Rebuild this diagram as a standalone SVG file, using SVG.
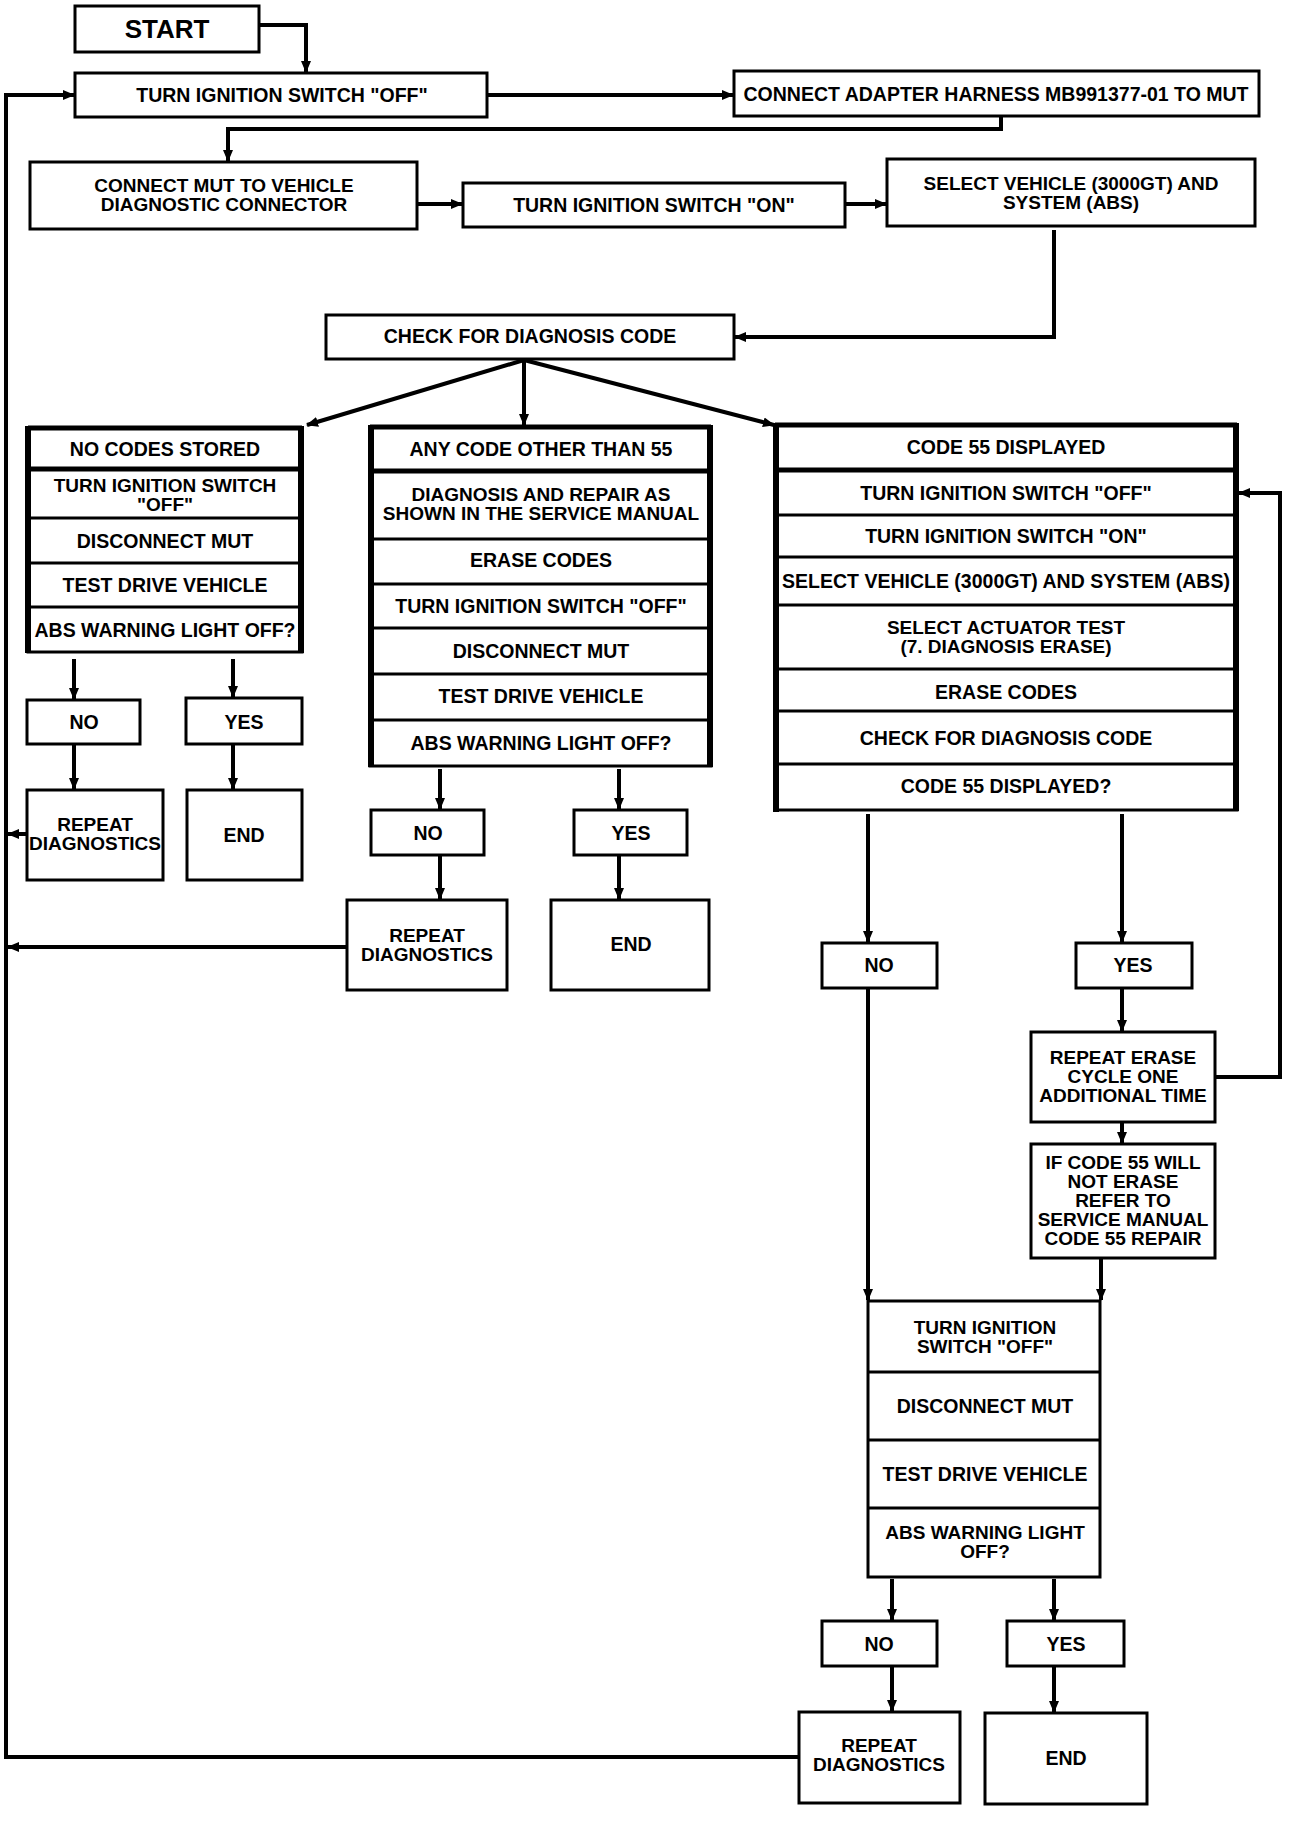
<svg xmlns="http://www.w3.org/2000/svg" width="1312" height="1836" viewBox="0 0 1312 1836">
<style>
.bx{fill:#fff;stroke:#000;stroke-width:3}
.sep{stroke:#000;stroke-width:3}
.sepT{stroke:#000;stroke-width:5}
.edge{stroke:#000;stroke-width:6}
.c{fill:none;stroke:#000;stroke-width:4}
.t{font-family:"Liberation Sans",Arial,Helvetica,sans-serif;font-weight:bold;font-size:19.5px;text-anchor:middle;fill:#000}
.m{font-size:19px}
.big{font-size:26px}
</style>
<defs>
<marker id="ah" viewBox="0 0 12 12" refX="11" refY="6" markerWidth="12" markerHeight="12" markerUnits="userSpaceOnUse" orient="auto">
<path d="M0,1 L12,6 L0,11 z" fill="#000"/>
</marker>
</defs>
<rect width="1312" height="1836" fill="#fff"/>

<g id="connectors">
<polyline class="c" points="259,25 306,25 306,72" marker-end="url(#ah)"/>
<line class="c" x1="487" y1="95" x2="733" y2="95" marker-end="url(#ah)"/>
<polyline class="c" points="1001,116 1001,129 228,129 228,161" marker-end="url(#ah)"/>
<line class="c" x1="418" y1="204" x2="462" y2="204" marker-end="url(#ah)"/>
<line class="c" x1="845" y1="204" x2="886" y2="204" marker-end="url(#ah)"/>
<polyline class="c" points="1054,230 1054,337 735,337" marker-end="url(#ah)"/>
<line class="c" x1="524" y1="360" x2="307" y2="425" marker-end="url(#ah)"/>
<line class="c" x1="524" y1="360" x2="524" y2="425" marker-end="url(#ah)"/>
<line class="c" x1="524" y1="360" x2="774" y2="425" marker-end="url(#ah)"/>
<line class="c" x1="74" y1="659" x2="74" y2="699" marker-end="url(#ah)"/>
<line class="c" x1="233" y1="659" x2="233" y2="697" marker-end="url(#ah)"/>
<line class="c" x1="74" y1="744" x2="74" y2="789" marker-end="url(#ah)"/>
<line class="c" x1="233" y1="744" x2="233" y2="789" marker-end="url(#ah)"/>
<line class="c" x1="440" y1="769" x2="440" y2="809" marker-end="url(#ah)"/>
<line class="c" x1="619" y1="769" x2="619" y2="809" marker-end="url(#ah)"/>
<line class="c" x1="440" y1="855" x2="440" y2="899" marker-end="url(#ah)"/>
<line class="c" x1="619" y1="855" x2="619" y2="899" marker-end="url(#ah)"/>
<line class="c" x1="868" y1="814" x2="868" y2="942" marker-end="url(#ah)"/>
<line class="c" x1="868" y1="988" x2="868" y2="1300" marker-end="url(#ah)"/>
<line class="c" x1="1122" y1="814" x2="1122" y2="942" marker-end="url(#ah)"/>
<line class="c" x1="1122" y1="988" x2="1122" y2="1031" marker-end="url(#ah)"/>
<line class="c" x1="1122" y1="1122" x2="1122" y2="1143" marker-end="url(#ah)"/>
<line class="c" x1="1101" y1="1258" x2="1101" y2="1300" marker-end="url(#ah)"/>
<polyline class="c" points="1215,1077 1280,1077 1280,493 1239,493" marker-end="url(#ah)"/>
<line class="c" x1="892" y1="1579" x2="892" y2="1620" marker-end="url(#ah)"/>
<line class="c" x1="1054" y1="1579" x2="1054" y2="1620" marker-end="url(#ah)"/>
<line class="c" x1="892" y1="1667" x2="892" y2="1711" marker-end="url(#ah)"/>
<line class="c" x1="1054" y1="1667" x2="1054" y2="1712" marker-end="url(#ah)"/>
<polyline class="c" points="799,1757 6,1757 6,95 74,95" marker-end="url(#ah)"/>
<line class="c" x1="27" y1="834" x2="8" y2="834" marker-end="url(#ah)"/>
<line class="c" x1="347" y1="947" x2="8" y2="947" marker-end="url(#ah)"/>
</g>

<g id="start">
<rect class="bx" x="75" y="6" width="184" height="46"/>
<text class="t big" x="167" y="38">START</text>
</g>
<g id="turn-off">
<rect class="bx" x="75" y="73" width="412" height="44"/>
<text class="t" x="282" y="102">TURN IGNITION SWITCH "OFF"</text>
</g>
<g id="adapter">
<rect class="bx" x="734" y="71" width="525" height="45"/>
<text class="t" x="996" y="101">CONNECT ADAPTER HARNESS MB991377-01 TO MUT</text>
</g>
<g id="connect-mut">
<rect class="bx" x="30" y="162" width="387" height="67"/>
<text class="t m" x="224" y="192">CONNECT MUT TO VEHICLE</text>
<text class="t m" x="224" y="211">DIAGNOSTIC CONNECTOR</text>
</g>
<g id="turn-on">
<rect class="bx" x="463" y="183" width="382" height="44"/>
<text class="t" x="654" y="212">TURN IGNITION SWITCH "ON"</text>
</g>
<g id="select-vehicle">
<rect class="bx" x="887" y="159" width="368" height="67"/>
<text class="t m" x="1071" y="190">SELECT VEHICLE (3000GT) AND</text>
<text class="t m" x="1071" y="209">SYSTEM (ABS)</text>
</g>
<g id="check">
<rect class="bx" x="326" y="315" width="408" height="44"/>
<text class="t" x="530" y="343">CHECK FOR DIAGNOSIS CODE</text>
</g>

<g id="no-codes">
<rect class="bx" x="28" y="428" width="274" height="224"/>
<line class="edge" x1="28" y1="426" x2="28" y2="653"/>
<line class="edge" x1="301" y1="426" x2="301" y2="653"/>
<line class="sepT" x1="28" y1="428" x2="302" y2="428"/>
<line class="sepT" x1="28" y1="469" x2="302" y2="469"/>
<line class="sep" x1="28" y1="518" x2="302" y2="518"/>
<line class="sep" x1="28" y1="563" x2="302" y2="563"/>
<line class="sep" x1="28" y1="607" x2="302" y2="607"/>
<text class="t" x="165" y="456">NO CODES STORED</text>
<text class="t m" x="165" y="492">TURN IGNITION SWITCH</text>
<text class="t m" x="165" y="511">"OFF"</text>
<text class="t" x="165" y="548">DISCONNECT MUT</text>
<text class="t" x="165" y="592">TEST DRIVE VEHICLE</text>
<text class="t" x="165" y="637">ABS WARNING LIGHT OFF?</text>
</g>
<g id="no1"><rect class="bx" x="27" y="700" width="113" height="44"/><text class="t" x="84" y="729">NO</text></g>
<g id="yes1"><rect class="bx" x="186" y="698" width="116" height="46"/><text class="t" x="244" y="729">YES</text></g>
<g id="repeat1"><rect class="bx" x="27" y="790" width="136" height="90"/><text class="t m" x="95" y="831">REPEAT</text><text class="t m" x="95" y="850">DIAGNOSTICS</text></g>
<g id="end1"><rect class="bx" x="187" y="790" width="115" height="90"/><text class="t" x="244" y="842">END</text></g>

<g id="other-code">
<rect class="bx" x="370" y="427" width="341" height="339"/>
<line class="edge" x1="371" y1="425" x2="371" y2="767"/>
<line class="edge" x1="710" y1="425" x2="710" y2="767"/>
<line class="sepT" x1="370" y1="427" x2="711" y2="427"/>
<line class="sepT" x1="370" y1="471" x2="711" y2="471"/>
<line class="sep" x1="370" y1="539" x2="711" y2="539"/>
<line class="sep" x1="370" y1="584" x2="711" y2="584"/>
<line class="sep" x1="370" y1="628" x2="711" y2="628"/>
<line class="sep" x1="370" y1="674" x2="711" y2="674"/>
<line class="sep" x1="370" y1="720" x2="711" y2="720"/>
<text class="t" x="541" y="456">ANY CODE OTHER THAN 55</text>
<text class="t m" x="541" y="501">DIAGNOSIS AND REPAIR AS</text>
<text class="t m" x="541" y="520">SHOWN IN THE SERVICE MANUAL</text>
<text class="t" x="541" y="567">ERASE CODES</text>
<text class="t" x="541" y="613">TURN IGNITION SWITCH "OFF"</text>
<text class="t" x="541" y="658">DISCONNECT MUT</text>
<text class="t" x="541" y="703">TEST DRIVE VEHICLE</text>
<text class="t" x="541" y="750">ABS WARNING LIGHT OFF?</text>
</g>
<g id="no2"><rect class="bx" x="371" y="810" width="113" height="45"/><text class="t" x="428" y="840">NO</text></g>
<g id="yes2"><rect class="bx" x="574" y="810" width="113" height="45"/><text class="t" x="631" y="840">YES</text></g>
<g id="repeat2"><rect class="bx" x="347" y="900" width="160" height="90"/><text class="t m" x="427" y="942">REPEAT</text><text class="t m" x="427" y="961">DIAGNOSTICS</text></g>
<g id="end2"><rect class="bx" x="551" y="900" width="158" height="90"/><text class="t" x="631" y="951">END</text></g>

<g id="code55">
<rect class="bx" x="775" y="425" width="462" height="385"/>
<line class="edge" x1="776" y1="423" x2="776" y2="812"/>
<line class="edge" x1="1236" y1="423" x2="1236" y2="811"/>
<line class="sepT" x1="775" y1="425" x2="1237" y2="425"/>
<line class="sepT" x1="775" y1="470" x2="1237" y2="470"/>
<line class="sep" x1="775" y1="515" x2="1237" y2="515"/>
<line class="sep" x1="775" y1="557" x2="1237" y2="557"/>
<line class="sep" x1="775" y1="605" x2="1237" y2="605"/>
<line class="sep" x1="775" y1="669" x2="1237" y2="669"/>
<line class="sep" x1="775" y1="711" x2="1237" y2="711"/>
<line class="sep" x1="775" y1="764" x2="1237" y2="764"/>
<text class="t" x="1006" y="454">CODE 55 DISPLAYED</text>
<text class="t" x="1006" y="500">TURN IGNITION SWITCH "OFF"</text>
<text class="t" x="1006" y="543">TURN IGNITION SWITCH "ON"</text>
<text class="t" x="1006" y="588">SELECT VEHICLE (3000GT) AND SYSTEM (ABS)</text>
<text class="t m" x="1006" y="634">SELECT ACTUATOR TEST</text>
<text class="t m" x="1006" y="653">(7. DIAGNOSIS ERASE)</text>
<text class="t" x="1006" y="699">ERASE CODES</text>
<text class="t" x="1006" y="745">CHECK FOR DIAGNOSIS CODE</text>
<text class="t" x="1006" y="793">CODE 55 DISPLAYED?</text>
</g>
<g id="no3"><rect class="bx" x="822" y="943" width="115" height="45"/><text class="t" x="879" y="972">NO</text></g>
<g id="yes3"><rect class="bx" x="1076" y="943" width="116" height="45"/><text class="t" x="1133" y="972">YES</text></g>
<g id="repeat-erase">
<rect class="bx" x="1031" y="1032" width="184" height="90"/>
<text class="t m" x="1123" y="1064">REPEAT ERASE</text>
<text class="t m" x="1123" y="1083">CYCLE ONE</text>
<text class="t m" x="1123" y="1102">ADDITIONAL TIME</text>
</g>
<g id="if-code55">
<rect class="bx" x="1031" y="1144" width="184" height="114"/>
<text class="t m" x="1123" y="1169">IF CODE 55 WILL</text>
<text class="t m" x="1123" y="1188">NOT ERASE</text>
<text class="t m" x="1123" y="1207">REFER TO</text>
<text class="t m" x="1123" y="1226">SERVICE MANUAL</text>
<text class="t m" x="1123" y="1245">CODE 55 REPAIR</text>
</g>
<g id="final-steps">
<rect class="bx" x="868" y="1301" width="232" height="276"/>
<line class="sep" x1="868" y1="1372" x2="1100" y2="1372"/>
<line class="sep" x1="868" y1="1440" x2="1100" y2="1440"/>
<line class="sep" x1="868" y1="1508" x2="1100" y2="1508"/>
<text class="t m" x="985" y="1334">TURN IGNITION</text>
<text class="t m" x="985" y="1353">SWITCH "OFF"</text>
<text class="t" x="985" y="1413">DISCONNECT MUT</text>
<text class="t" x="985" y="1481">TEST DRIVE VEHICLE</text>
<text class="t m" x="985" y="1539">ABS WARNING LIGHT</text>
<text class="t m" x="985" y="1558">OFF?</text>
</g>
<g id="no4"><rect class="bx" x="822" y="1621" width="115" height="45"/><text class="t" x="879" y="1651">NO</text></g>
<g id="yes4"><rect class="bx" x="1007" y="1621" width="117" height="45"/><text class="t" x="1066" y="1651">YES</text></g>
<g id="repeat4"><rect class="bx" x="799" y="1712" width="161" height="91"/><text class="t m" x="879" y="1752">REPEAT</text><text class="t m" x="879" y="1771">DIAGNOSTICS</text></g>
<g id="end4"><rect class="bx" x="985" y="1713" width="162" height="91"/><text class="t" x="1066" y="1765">END</text></g>
</svg>
